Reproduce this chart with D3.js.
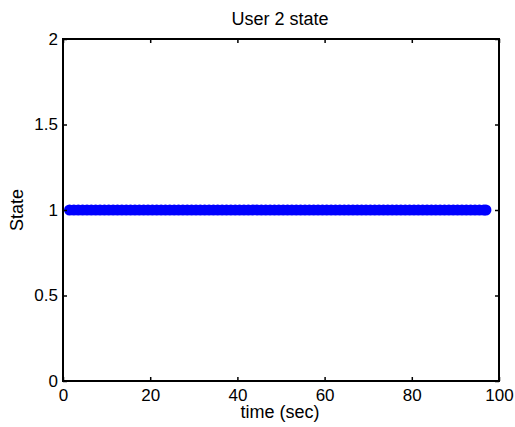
<!DOCTYPE html>
<html><head><meta charset="utf-8">
<script src="https://cdn.jsdelivr.net/npm/d3@7"></script>
<style>
body{margin:0;background:#fff;}
text{font-family:"Liberation Sans",Arial,sans-serif;}
</style></head><body>
<svg id="c" width="515" height="427"></svg>
<script>
const title = "User 2 state";
const xLabel = "time (sec)";
const yLabel = "State";
const xTicks = [0, 20, 40, 60, 80, 100];
const yTicks = [0, 0.5, 1, 1.5, 2];
const times = [1.5,2.5,3.5,4.5,5.5,6.5,7.5,8.5,9.5,10.5,11.5,12.5,13.5,14.5,15.5,16.5,17.5,18.5,19.5,20.5,21.5,22.5,23.5,24.5,25.5,26.5,27.5,28.5,29.5,30.5,31.5,32.5,33.5,34.5,35.5,36.5,37.5,38.5,39.5,40.5,41.5,42.5,43.5,44.5,45.5,46.5,47.5,48.5,49.5,50.5,51.5,52.5,53.5,54.5,55.5,56.5,57.5,58.5,59.5,60.5,61.5,62.5,63.5,64.5,65.5,66.5,67.5,68.5,69.5,70.5,71.5,72.5,73.5,74.5,75.5,76.5,77.5,78.5,79.5,80.5,81.5,82.5,83.5,84.5,85.5,86.5,87.5,88.5,89.5,90.5,91.5,92.5,93.5,94.5,95.5,96.5,97];
const states = [1,1,1,1,1,1,1,1,1,1,1,1,1,1,1,1,1,1,1,1,1,1,1,1,1,1,1,1,1,1,1,1,1,1,1,1,1,1,1,1,1,1,1,1,1,1,1,1,1,1,1,1,1,1,1,1,1,1,1,1,1,1,1,1,1,1,1,1,1,1,1,1,1,1,1,1,1,1,1,1,1,1,1,1,1,1,1,1,1,1,1,1,1,1,1,1,1];

const svg = d3.select("#c");
const L = 63, R = 499, T = 39, B = 381;
const x = d3.scaleLinear().domain([0, 100]).range([L, R]);
const y = d3.scaleLinear().domain([0, 2]).range([B, T]);
const fs = 17, fl = 18;

// data markers
svg.append("g").selectAll("circle").data(times).join("circle")
  .attr("cx", (d) => x(d))
  .attr("cy", (d, i) => y(states[i]))
  .attr("r", 5.5)
  .attr("fill", "#0000ff");

function style(g) {
  g.select(".domain").remove();
  g.selectAll(".tick line").attr("stroke", "#000").attr("stroke-width", 1.5);
  g.selectAll(".tick text").attr("font-size", fs).attr("fill", "#000")
    .attr("font-family", '"Liberation Sans",Arial,sans-serif');
}
svg.append("g").attr("transform", `translate(0,${B})`)
  .call(d3.axisBottom(x).tickValues(xTicks).tickSizeInner(-4).tickSizeOuter(0).tickPadding(8).tickFormat(d3.format("d")))
  .call(style);
svg.append("g").attr("transform", `translate(0,${T})`)
  .call(d3.axisTop(x).tickValues(xTicks).tickSizeInner(-4).tickSizeOuter(0).tickFormat(""))
  .call(style);
svg.append("g").attr("transform", `translate(${L},0)`)
  .call(d3.axisLeft(y).tickValues(yTicks).tickSizeInner(-4).tickSizeOuter(0).tickPadding(5).tickFormat(d3.format("")))
  .call(style);
svg.append("g").attr("transform", `translate(${R},0)`)
  .call(d3.axisRight(y).tickValues(yTicks).tickSizeInner(-4).tickSizeOuter(0).tickFormat(""))
  .call(style);

// box
svg.append("rect").attr("x", L).attr("y", T).attr("width", R - L).attr("height", B - T)
  .attr("fill", "none").attr("stroke", "#000").attr("stroke-width", 2);

svg.append("text").attr("x", 280).attr("y", 25).attr("text-anchor", "middle")
  .attr("font-size", fl).text(title);
svg.append("text").attr("x", 280).attr("y", 418).attr("text-anchor", "middle")
  .attr("font-size", fl).text(xLabel);
svg.append("text").attr("transform", `translate(23,${(T + B) / 2}) rotate(-90)`)
  .attr("text-anchor", "middle").attr("font-size", fl).text(yLabel);
</script>
</body></html>
